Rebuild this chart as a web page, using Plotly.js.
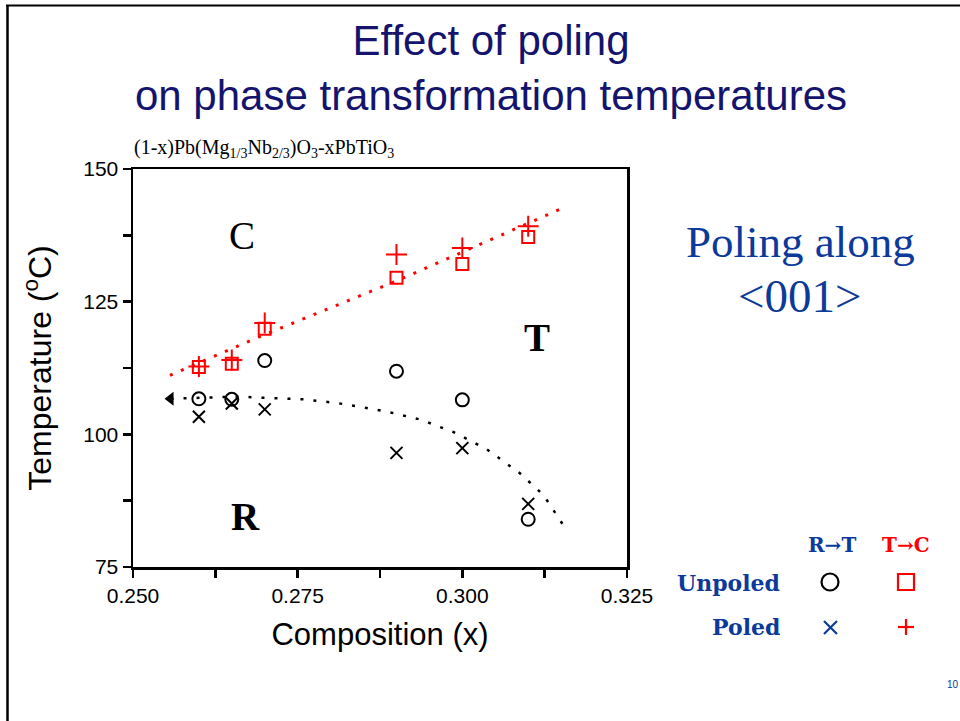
<!DOCTYPE html>
<html>
<head>
<meta charset="utf-8">
<script src="https://cdn.plot.ly/plotly-3.0.1.min.js"></script>
<style>html,body{margin:0;padding:0;background:#fff;}#chart{width:960px;height:721px;}</style>
</head>
<body>
<div id="chart"></div>
<script>
// ---- data ----
var composition = [0.26, 0.265, 0.27, 0.29, 0.30, 0.31];
var unpoledRT = [106.7, 106.6, 113.9, 111.9, 106.5, 84.0];   // circles
var poledRT   = [103.3, 105.8, 104.7, 96.5, 97.4, 86.9];     // x marks
var unpoledTC = [112.7, 113.3, 119.9, 129.5, 132.1, 137.2];  // squares
var poledTC   = [112.8, 114.0, 121.0, 133.9, 135.1, 139.2];  // plus marks

var tcLineX = [0.2556, 0.2698, 0.29, 0.3150];
var tcLineY = [111.1, 118.7, 128.9, 142.5];

var rtCurveX = [0.2557, 0.2658, 0.2759, 0.2810, 0.2885, 0.2936, 0.2987, 0.3037, 0.3087, 0.3123, 0.3158];
var rtCurveY = [106.7, 107.1, 106.6, 105.9, 104.3, 102.8, 100.4, 97.2, 92.7, 88.6, 82.0];

var xTickVals = [0.250, 0.275, 0.300, 0.325];
var xTickText = ['0.250', '0.275', '0.300', '0.325'];
var yTickVals = [75, 100, 125, 150];
var yTickText = ['75', '100', '125', '150'];

// ---- layout helpers (pixel -> paper) ----
var L = 133, R = 627, T = 169, B = 567;
function px(x) { return (x - L) / (R - L); }
function py(y) { return (B - y) / (B - T); }

var navy = '#14146e';
var blue = '#0b3a9a';
var red = '#ff0000';

var traces = [
  {x: tcLineX, y: tcLineY, mode: 'lines', line: {color: red, width: 3, dash: '3px,9px'}, hoverinfo: 'skip', showlegend: false},
  {x: rtCurveX, y: rtCurveY, mode: 'lines', line: {color: '#000', width: 2.5, dash: '3px,10px'}, hoverinfo: 'skip', showlegend: false},
  {x: [rtCurveX[0]], y: [rtCurveY[0]], mode: 'markers', marker: {symbol: 'triangle-left', size: 12, color: '#000'}, hoverinfo: 'skip', showlegend: false},
  {x: composition, y: unpoledRT, mode: 'markers', name: 'Unpoled R→T',
   marker: {symbol: 'circle-open', size: 13, color: '#000', line: {width: 2, color: '#000'}}},
  {x: composition, y: poledRT, mode: 'markers', name: 'Poled R→T',
   marker: {symbol: 'x-thin-open', size: 12, color: '#000', line: {width: 2, color: '#000'}}},
  {x: composition, y: unpoledTC, mode: 'markers', name: 'Unpoled T→C',
   marker: {symbol: 'square-open', size: 12, color: red, line: {width: 2, color: red}}},
  {x: composition, y: poledTC, mode: 'markers', name: 'Poled T→C',
   marker: {symbol: 'cross-thin-open', size: 15, color: red, line: {width: 2, color: red}}}
];

var serif = 'Liberation Serif, Times New Roman, serif';
var sans = 'Liberation Sans, Arial, sans-serif';
var bserif = 'DejaVu Serif, serif';

var annotations = [
  {text: '(1-x)Pb(Mg<sub>1/3</sub>Nb<sub>2/3</sub>)O<sub>3</sub>-xPbTiO<sub>3</sub>', x: px(132), y: py(148), xanchor: 'left', yanchor: 'middle', font: {family: serif, size: 20, color: '#000'}},
  {text: 'C', x: px(242), y: py(235), font: {family: serif, size: 39, color: '#000'}},
  {text: '<b>T</b>', x: px(537), y: py(337), font: {family: serif, size: 39, color: '#000'}},
  {text: '<b>R</b>', x: px(245), y: py(516), font: {family: serif, size: 39, color: '#000'}},
  {text: 'Poling along', x: px(800), y: py(242), font: {family: serif, size: 45, color: blue}},
  {text: '&lt;001&gt;', x: px(800), y: py(296), font: {family: serif, size: 47, color: blue}},
  {text: '<b>R→T</b>', x: px(832), y: py(545), font: {family: bserif, size: 20, color: blue}},
  {text: '<b>T→C</b>', x: px(906), y: py(545), font: {family: bserif, size: 20, color: red}},
  {text: '<b>Unpoled</b>', x: px(782), y: py(583), xanchor: 'right', font: {family: bserif, size: 22, color: blue}},
  {text: '<b>Poled</b>', x: px(782), y: py(627), xanchor: 'right', font: {family: bserif, size: 22, color: blue}},
  {text: '10', x: px(953), y: py(684), font: {family: sans, size: 10, color: blue}}
];
annotations.forEach(function (a) {
  a.xref = 'paper'; a.yref = 'paper'; a.showarrow = false;
  if (!a.xanchor) a.xanchor = 'center';
  if (!a.yanchor) a.yanchor = 'middle';
});

function line(x0, y0, x1, y1, color, w) {
  return {type: 'line', xref: 'paper', yref: 'paper', x0: px(x0), y0: py(y0), x1: px(x1), y1: py(y1), line: {color: color, width: w}};
}
var shapes = [
  line(6, 5.5, 960, 5.5, '#000', 2),
  line(7.5, 5, 7.5, 721, '#000', 2.5),
  {type: 'circle', xref: 'paper', yref: 'paper', x0: px(821.5), x1: px(838.5), y0: py(590.5), y1: py(573.5), line: {color: '#000', width: 2.2}},
  {type: 'rect', xref: 'paper', yref: 'paper', x0: px(898), x1: px(914), y0: py(590), y1: py(574), line: {color: red, width: 2.2}},
  line(824, 621, 837, 634, blue, 2.2),
  line(824, 634, 837, 621, blue, 2.2),
  line(898, 627, 914, 627, red, 2.2),
  line(906, 619, 906, 635, red, 2.2)
];

var layout = {
  width: 960, height: 721,
  margin: {l: L, r: 960 - R, t: T, b: 721 - B},
  paper_bgcolor: '#fff', plot_bgcolor: '#fff',
  showlegend: false,
  title: {text: 'Effect of poling<br>on phase transformation temperatures', font: {family: sans, size: 42, color: navy},
          xref: 'container', yref: 'container', x: 491 / 960, xanchor: 'center', y: 1 - 55 / 721, yanchor: 'top'},
  xaxis: {range: [0.25, 0.325], tickvals: xTickVals, ticktext: xTickText, ticks: 'outside', ticklen: 8, tickwidth: 2.5, tickcolor: '#000',
          minor: {tickvals: [0.2625, 0.2875, 0.3125], ticks: 'outside', ticklen: 8, tickwidth: 2.5, tickcolor: '#000'},
          showline: true, linewidth: 2.5, linecolor: '#000', mirror: true, showgrid: false, zeroline: false,
          tickfont: {family: sans, size: 21, color: '#000'},
          title: {text: 'Composition (x)', font: {family: sans, size: 31, color: '#000'}, standoff: 18}},
  yaxis: {range: [75, 150], tickvals: yTickVals, ticktext: yTickText, ticks: 'outside', ticklen: 8, tickwidth: 2.5, tickcolor: '#000',
          minor: {tickvals: [87.5, 112.5, 137.5], ticks: 'outside', ticklen: 8, tickwidth: 2.5, tickcolor: '#000'},
          showline: true, linewidth: 2.5, linecolor: '#000', mirror: true, showgrid: false, zeroline: false,
          tickfont: {family: sans, size: 21, color: '#000'},
          title: {text: 'Temperature (<sup>o</sup>C)', font: {family: sans, size: 32, color: '#000'}, standoff: 22}},
  annotations: annotations,
  shapes: shapes
};

Plotly.newPlot('chart', traces, layout, {displayModeBar: false, staticPlot: true});
</script>
</body>
</html>
